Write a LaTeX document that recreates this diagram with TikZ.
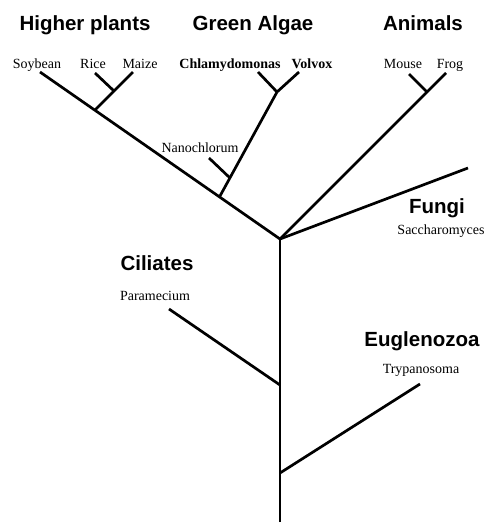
\documentclass[tikz,border=0pt]{standalone}
\usepackage{fontspec}
\setmainfont{Liberation Serif}
\newfontfamily\groupfont{Liberation Sans}
\usepackage{tikz}
\usetikzlibrary{calc, positioning}

\begin{document}
\begin{tikzpicture}[x=1pt, y=-1pt,
    branch/.style={line width=2.7pt, line cap=butt},
    taxon/.style={anchor=base, inner sep=0pt, font=\fontsize{14}{16}\selectfont},
    group/.style={anchor=base, inner sep=0pt, font=\groupfont\bfseries\fontsize{20.5}{23}\selectfont}]
  \useasboundingbox (0,0) rectangle (486,525);

  % group headings
  \foreach \n/\x/\y/\t in {hplants/85/30/Higher plants, galgae/253/30/Green Algae,
                           animals/423/30/Animals, fungi/437/213/Fungi,
                           ciliates/157/270/Ciliates, euglen/422/346/Euglenozoa}
    \node[group] (\n) at (\x,\y) {\t};

  % species names
  \foreach \n/\x/\y/\t in {soybean/37/68/Soybean, rice/93/68/Rice, maize/140/68/Maize,
                           mouse/403/68/Mouse, frog/450/68/Frog,
                           nanochl/200/152/Nanochlorum, sacch/441/234/Saccharomyces,
                           param/155/300/Paramecium, trypano/421/373/Trypanosoma}
    \node[taxon] (\n) at (\x,\y) {\t};
  \node[taxon, font=\bfseries\fontsize{14}{16}\selectfont] (chlamy) at (230,68) {Chlamydomonas};
  \node[taxon, font=\bfseries\fontsize{14}{16}\selectfont] (volvox) at (312,68) {Volvox};

  % junctions and branch tips
  \coordinate (root) at (280,522);
  \coordinate (hub) at (280,239);
  \coordinate (eugj) at (280,473);
  \coordinate (eugtip) at (420,384);
  \coordinate (cilj) at (280,385);
  \coordinate (ciltip) at (169,309);
  \coordinate (fungtip) at (468,168);
  \coordinate (animj) at (427,92);
  \coordinate (mousetip) at (409,74);
  \coordinate (frogtip) at (446,73);
  \coordinate (soytip) at (40,72);
  \coordinate (plantj) at (95,110);
  \coordinate (rmj) at (114,91);
  \coordinate (ricetip) at (95,73);
  \coordinate (maizetip) at (133,72);
  \coordinate (algaej) at (220,196);
  \coordinate (nanoj) at (230,178);
  \coordinate (nanotip) at (209,158);
  \coordinate (chvj) at (277,92);
  \coordinate (chltip) at (258,72);
  \coordinate (voltip) at (299,72);

  % tree
  \draw[branch] (root) -- (hub);
  \draw[branch] (eugj) -- (eugtip);
  \draw[branch] (cilj) -- (ciltip);
  \draw[branch] (hub) -- (fungtip);
  \draw[branch] (hub) -- (frogtip);
  \draw[branch] (animj) -- (mousetip);
  \draw[branch] (hub) -- (soytip);
  \draw[branch] (plantj) -- (maizetip);
  \draw[branch] (rmj) -- (ricetip);
  \draw[branch] (algaej) -- (chvj);
  \draw[branch] (nanoj) -- (nanotip);
  \draw[branch] (chvj) -- (chltip);
  \draw[branch] (chvj) -- (voltip);
\end{tikzpicture}
\end{document}
